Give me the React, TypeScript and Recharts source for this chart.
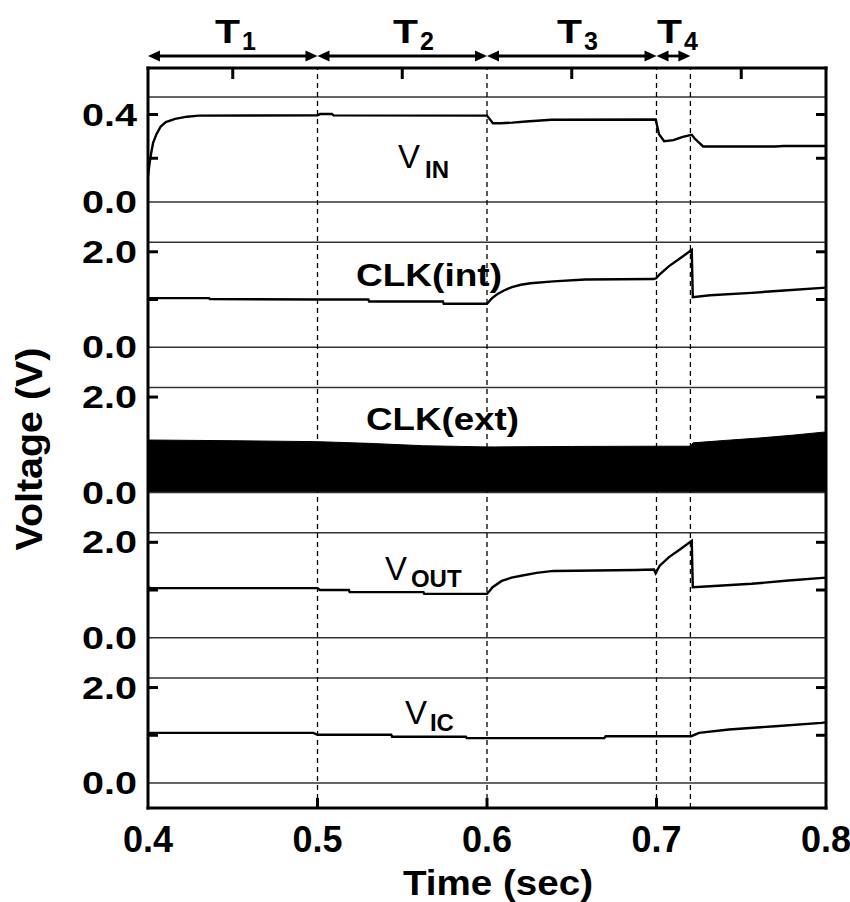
import React from 'react';
import { ComposedChart, Line, Area, XAxis, YAxis, ReferenceLine, ReferenceDot } from 'recharts';

const FONT = '"Liberation Sans", Arial, Helvetica, sans-serif';

// ---------------- data ----------------
const TIME_TICKS = [0.4, 0.5, 0.6, 0.7, 0.8];
const TIME_TICK_LABELS = ['0.4', '0.5', '0.6', '0.7', '0.8'];
const TIME_MINOR_TICKS = [0.45, 0.55, 0.65, 0.75];
const PHASE_EDGES = [0.4, 0.5, 0.6, 0.7, 0.72];
const PHASE_NAMES = ['1', '2', '3', '4'];

const VIN_T = [0.4, 0.4008, 0.4018, 0.403, 0.405, 0.4075, 0.4105, 0.416, 0.423, 0.43, 0.5, 0.5015, 0.5085, 0.5095, 0.6, 0.6035, 0.608, 0.615, 0.623, 0.638, 0.6995, 0.7015, 0.7045, 0.71, 0.7155, 0.7208, 0.7225, 0.7275, 0.77, 0.775, 0.8];
const VIN_V = [0.12, 0.17, 0.22, 0.27, 0.31, 0.345, 0.365, 0.38, 0.39, 0.395, 0.396, 0.402, 0.402, 0.396, 0.395, 0.36, 0.36, 0.363, 0.368, 0.376, 0.377, 0.31, 0.278, 0.283, 0.298, 0.307, 0.29, 0.254, 0.254, 0.256, 0.256];

const CLKINT_T = [0.4, 0.436, 0.4365, 0.5, 0.53, 0.5305, 0.574, 0.5745, 0.6, 0.6015, 0.603, 0.606, 0.61, 0.6147, 0.62, 0.6256, 0.6392, 0.658, 0.6985, 0.7, 0.7019, 0.7074, 0.7142, 0.7208, 0.7214, 0.7316, 0.7561, 0.7752, 0.8];
const CLKINT_V = [1.03, 1.03, 1.01, 1.0, 1.0, 0.96, 0.96, 0.91, 0.91, 0.97, 1.03, 1.11, 1.19, 1.26, 1.31, 1.34, 1.38, 1.42, 1.43, 1.45, 1.53, 1.70, 1.87, 2.04, 1.05, 1.09, 1.14, 1.19, 1.25];

const CLKEXT_T = [0.4, 0.45, 0.5, 0.53, 0.5625, 0.6, 0.605, 0.65, 0.7, 0.72, 0.7215, 0.74, 0.76, 0.78, 0.8];
const CLKEXT_V = [1.10, 1.085, 1.065, 1.03, 0.98, 0.955, 0.955, 0.965, 0.97, 0.97, 1.04, 1.09, 1.14, 1.2, 1.27];

const VOUT_T = [0.4, 0.4015, 0.5, 0.5014, 0.5185, 0.519, 0.5625, 0.563, 0.6, 0.6015, 0.6033, 0.6087, 0.6145, 0.6201, 0.6292, 0.6392, 0.688, 0.6985, 0.6995, 0.7005, 0.7019, 0.7074, 0.7142, 0.7208, 0.7214, 0.7316, 0.7561, 0.7779, 0.8];
const VOUT_V = [1.06, 1.04, 1.04, 1.0, 1.0, 0.955, 0.955, 0.92, 0.92, 0.98, 1.06, 1.19, 1.26, 1.30, 1.36, 1.40, 1.42, 1.43, 1.35, 1.42, 1.51, 1.69, 1.86, 2.03, 1.06, 1.08, 1.13, 1.20, 1.26];

const VIC_T = [0.4, 0.4975, 0.5, 0.5435, 0.544, 0.5875, 0.588, 0.6692, 0.67, 0.7205, 0.7251, 0.7428, 0.77, 0.7973, 0.8];
const VIC_V = [1.05, 1.05, 1.01, 1.01, 0.97, 0.97, 0.94, 0.94, 0.98, 0.98, 1.05, 1.12, 1.19, 1.26, 1.27];

const PANEL_MAX = [0.48, 2.2, 2.2, 2.2, 2.2];
const PANEL_TICKS = [[0, 0.2, 0.4], [0, 1, 2], [0, 1, 2], [0, 1, 2], [0, 1, 2]];
const PANEL_TICK_LABELS = [
  ['0.0', '', '0.4'],
  ['0.0', '', '2.0'],
  ['0.0', '', '2.0'],
  ['0.0', '', '2.0'],
  ['0.0', '', '2.0'],
];

// ---------------- layout ----------------
const W = 850;
const H = 902;
const PLOT = { left: 148, right: 826, top: 68, bottom: 808 };
const PANEL_TOP0 = 97;
const PANEL_STEP = 145.25;
const PANEL_H = 105;
const THIN = 0.01; // axes must have a positive size to be drawn
const X_MIN = 0.4;
const X_MAX = 0.8;
const PX_PER_T = (PLOT.right - PLOT.left) / (X_MAX - X_MIN);
const STUB_DT = 10 / PX_PER_T; // tick stub length expressed along the time axis

function panelDomain(i: number): [number, number] {
  const top = PANEL_TOP0 + i * PANEL_STEP;
  const bottom = top + PANEL_H;
  const max = PANEL_MAX[i];
  const k = PANEL_H / max;
  return [-(PLOT.bottom - bottom) / k, max + (top - PLOT.top) / k];
}

const zip = (ts: number[], vs: number[]) => ts.map((t, i) => ({ t, v: vs[i] }));

const VIN = zip(VIN_T, VIN_V);
const CLKINT = zip(CLKINT_T, CLKINT_V);
const CLKEXT = zip(CLKEXT_T, CLKEXT_V);
const VOUT = zip(VOUT_T, VOUT_V);
const VIC = zip(VIC_T, VIC_V);

const LINE_SERIES = [
  { panel: 0, data: VIN },
  { panel: 1, data: CLKINT },
  { panel: 3, data: VOUT },
  { panel: 4, data: VIC },
];

// annotation placements (time, panel value)
const SERIES_LABELS = [
  { panel: 0, t: 0.5475, v: 0.155, main: 'V', sub: 'IN', subDx: 27, subDy: 10 },
  { panel: 1, t: 0.5227, v: 1.273, main: 'CLK(int)', len: 146 },
  { panel: 2, t: 0.5286, v: 1.32, main: 'CLK(ext)', len: 153 },
  { panel: 3, t: 0.5398, v: 1.21, main: 'V', sub: 'OUT', subDx: 26, subDy: 7 },
  { panel: 4, t: 0.5516, v: 1.236, main: 'V', sub: 'IC', subDx: 25, subDy: 7 },
];
const PHASE_LABEL_T = [0.4395, 0.5445, 0.6413, 0.7003];
const PHASE_LABEL_Y = 43;
const PHASE_ARROW_Y = 56;

const pid = (i: number) => `p${i + 1}`;

// ---------------- custom parts ----------------
const makeLeftTick = (i: number) => (props: any) => {
  const { x, y, payload } = props;
  const idx = PANEL_TICKS[i].indexOf(payload.value);
  const label = idx >= 0 ? PANEL_TICK_LABELS[i][idx] : '';
  if (!label) return <g />;
  return (
    <text
      x={x}
      y={y}
      dy="0.36em"
      textAnchor="end"
      fontFamily={FONT}
      fontWeight="bold"
      fontSize={31}
      textLength={55}
      lengthAdjust="spacingAndGlyphs"
      fill="#000"
    >
      {label}
    </text>
  );
};

const NoLabel = () => <g />;

const BottomTick = (props: any) => {
  const { x, y, payload } = props;
  const idx = TIME_TICKS.indexOf(payload.value);
  return (
    <text x={x} y={y} dy="0.71em" textAnchor="middle" fontFamily={FONT} fontWeight="bold" fontSize={36} fill="#000">
      {idx >= 0 ? TIME_TICK_LABELS[idx] : ''}
    </text>
  );
};

const TimeLabel = (props: any) => {
  const vb = props.viewBox || { x: PLOT.left, y: PLOT.bottom, width: PLOT.right - PLOT.left, height: H - PLOT.bottom };
  const x = vb.x + vb.width / 2 + 11;
  const y = vb.y + 87;
  return (
    <text x={x} y={y} textAnchor="middle" fontFamily={FONT} fontWeight="bold" fontSize={35} textLength={190} lengthAdjust="spacingAndGlyphs" fill="#000">
      Time (sec)
    </text>
  );
};

const VoltageLabel = (props: any) => {
  const vb = props.viewBox || { x: PLOT.left, y: PLOT.top, width: 0, height: PLOT.bottom - PLOT.top };
  const x = vb.x - 106;
  const y = vb.y + vb.height / 2 + 11;
  return (
    <text
      x={x}
      y={y}
      transform={`rotate(-90 ${x} ${y})`}
      textAnchor="middle"
      fontFamily={FONT}
      fontWeight="bold"
      fontSize={37}
      textLength={203}
      lengthAdjust="spacingAndGlyphs"
      fill="#000"
    >
      Voltage (V)
    </text>
  );
};

const ArrowShape = (props: any) => {
  const { x1, y1, x2, y2 } = props;
  const h = 12;
  const w = 5.5;
  return (
    <g>
      <line x1={x1 + h - 1} y1={y1} x2={x2 - h + 1} y2={y2} stroke="#000" strokeWidth={2.8} />
      <polygon points={`${x1},${y1} ${x1 + h},${y1 - w} ${x1 + h},${y1 + w}`} fill="#000" />
      <polygon points={`${x2},${y2} ${x2 - h},${y2 - w} ${x2 - h},${y2 + w}`} fill="#000" />
    </g>
  );
};

const makePhaseLabel = (name: string) => (props: any) => {
  const { cx, cy } = props;
  return (
    <g>
      <text x={cx} y={cy} fontFamily={FONT} fontWeight="bold" fontSize={34} textLength={25} lengthAdjust="spacingAndGlyphs" fill="#000">
        T
      </text>
      <text x={cx + 27} y={cy + 7} fontFamily={FONT} fontWeight="bold" fontSize={25} fill="#000">
        {name}
      </text>
    </g>
  );
};

const makeSeriesLabel = (def: any) => (props: any) => {
  const { cx, cy } = props;
  if (def.sub) {
    return (
      <g>
        <text x={cx} y={cy} fontFamily={FONT} fontSize={33} fill="#000">
          {def.main}
        </text>
        <text x={cx + def.subDx} y={cy + def.subDy} fontFamily={FONT} fontWeight="bold" fontSize={24} fill="#000">
          {def.sub}
        </text>
      </g>
    );
  }
  return (
    <text x={cx} y={cy} fontFamily={FONT} fontWeight="bold" fontSize={32} textLength={def.len} lengthAdjust="spacingAndGlyphs" fill="#000">
      {def.main}
    </text>
  );
};

const BORDER = { stroke: '#000', strokeWidth: 3, strokeLinecap: 'square' as const };

export default function App() {
  const panels = PANEL_MAX.map((_, i) => i);
  // inward tick stubs built from the tick arrays, drawn through the chart scales
  const yStubs = panels.flatMap((i) =>
    PANEL_TICKS[i]
      .filter((v) => v !== 0)
      .flatMap((v) => [
        { key: `L${i}-${v}`, axis: pid(i), data: [{ t: X_MIN, v }, { t: X_MIN + STUB_DT, v }] },
        { key: `R${i}-${v}`, axis: pid(i), data: [{ t: X_MAX - STUB_DT, v }, { t: X_MAX, v }] },
      ])
  );
  const xStubs = [
    ...TIME_MINOR_TICKS.map((t) => ({ key: `T${t}`, axis: 'px', data: [{ t, v: PLOT.top }, { t, v: PLOT.top + 11 }] })),
    ...TIME_TICKS.slice(1, -1).map((t) => ({ key: `B${t}`, axis: 'px', data: [{ t, v: PLOT.bottom - 10 }, { t, v: PLOT.bottom }] })),
  ];
  return (
    <div style={{ position: 'absolute', left: 0, top: 0, width: W, height: H, background: '#fff' }}>
      <ComposedChart
        width={W}
        height={H}
        margin={{ top: PLOT.top - THIN, left: PLOT.left - 5 * THIN, right: W - PLOT.right - THIN, bottom: 0 }}
      >
        <XAxis
          dataKey="t"
          type="number"
          domain={[X_MIN, X_MAX]}
          allowDataOverflow
          ticks={TIME_TICKS}
          interval={0}
          height={H - PLOT.bottom}
          tickSize={0}
          tickMargin={18}
          tickLine={false}
          axisLine={BORDER}
          tick={BottomTick}
          label={{ content: TimeLabel }}
        />
        <XAxis
          xAxisId="top"
          orientation="top"
          type="number"
          domain={[X_MIN, X_MAX]}
          allowDataOverflow
          ticks={TIME_MINOR_TICKS}
          interval={0}
          height={THIN}
          tickSize={0}
          tickLine={false}
          axisLine={BORDER}
          tick={NoLabel}
        />
        <YAxis yAxisId="px" hide width={THIN} type="number" domain={[PLOT.top, PLOT.bottom]} reversed allowDataOverflow />
        {panels.map((i) => (
          <YAxis
            key={pid(i)}
            yAxisId={pid(i)}
            orientation="left"
            width={THIN}
            type="number"
            domain={panelDomain(i)}
            allowDataOverflow
            ticks={PANEL_TICKS[i]}
            interval={0}
            tickSize={0}
            tickMargin={11}
            tickLine={false}
            axisLine={i === 0 ? BORDER : false}
            tick={makeLeftTick(i)}
            label={i === 0 ? { content: VoltageLabel } : undefined}
          />
        ))}
        <YAxis
          yAxisId="right"
          orientation="right"
          width={THIN}
          type="number"
          domain={[0, 1]}
          allowDataOverflow
          tickLine={false}
          axisLine={BORDER}
          tick={NoLabel}
        />

        {panels.map((i) => (
          <ReferenceLine key={`z${i}`} yAxisId={pid(i)} y={0} stroke="#333" strokeWidth={1.5} />
        ))}
        {panels.map((i) => (
          <ReferenceLine key={`m${i}`} yAxisId={pid(i)} y={PANEL_MAX[i]} stroke="#333" strokeWidth={1.5} />
        ))}
        {PHASE_EDGES.slice(1).map((b) => (
          <ReferenceLine key={`d${b}`} yAxisId="px" x={b} stroke="#000" strokeWidth={1.3} strokeDasharray="5 4" />
        ))}

        <Area
          data={CLKEXT}
          dataKey="v"
          yAxisId={pid(2)}
          type="linear"
          stroke="#000"
          strokeWidth={1}
          fill="#000"
          fillOpacity={1}
          baseValue={0}
          dot={false}
          activeDot={false}
          isAnimationActive={false}
        />
        {LINE_SERIES.map((s) => (
          <Line
            key={`s${s.panel}`}
            data={s.data}
            dataKey="v"
            yAxisId={pid(s.panel)}
            type="linear"
            stroke="#000"
            strokeWidth={2.4}
            dot={false}
            activeDot={false}
            isAnimationActive={false}
          />
        ))}
        {[...yStubs, ...xStubs].map((s) => (
          <Line
            key={s.key}
            data={s.data}
            dataKey="v"
            yAxisId={s.axis}
            type="linear"
            stroke="#000"
            strokeWidth={3}
            dot={false}
            activeDot={false}
            legendType="none"
            isAnimationActive={false}
          />
        ))}

        {PHASE_NAMES.map((n, k) => (
          <ReferenceLine
            key={`a${n}`}
            yAxisId="px"
            ifOverflow="visible"
            segment={[
              { x: PHASE_EDGES[k], y: PHASE_ARROW_Y },
              { x: PHASE_EDGES[k + 1], y: PHASE_ARROW_Y },
            ]}
            shape={ArrowShape}
          />
        ))}
        {PHASE_NAMES.map((n, k) => (
          <ReferenceDot
            key={`t${n}`}
            yAxisId="px"
            x={PHASE_LABEL_T[k]}
            y={PHASE_LABEL_Y}
            r={0}
            ifOverflow="visible"
            shape={makePhaseLabel(n)}
          />
        ))}
        {SERIES_LABELS.map((d) => (
          <ReferenceDot
            key={`l${d.panel}`}
            yAxisId={pid(d.panel)}
            x={d.t}
            y={d.v}
            r={0}
            ifOverflow="visible"
            shape={makeSeriesLabel(d)}
          />
        ))}
      </ComposedChart>
    </div>
  );
}
